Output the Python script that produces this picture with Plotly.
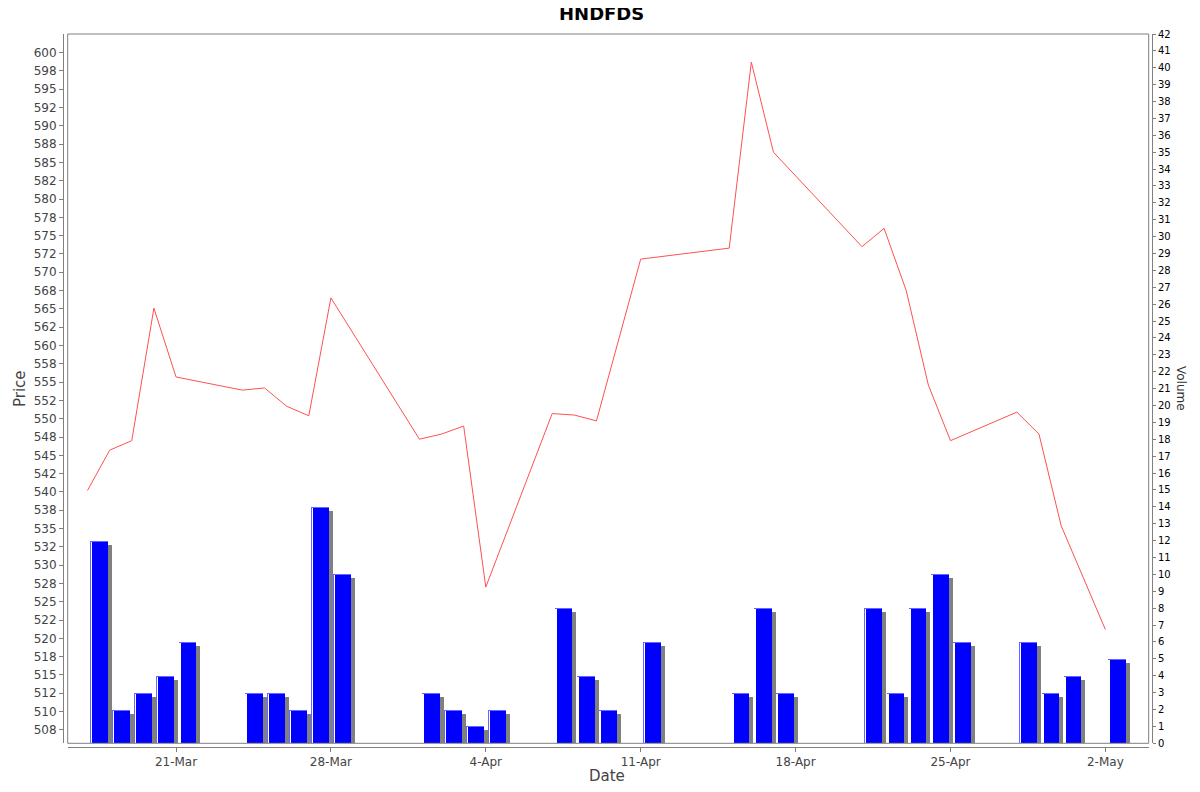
import plotly.graph_objects as go

# daily data (NSE trading days, Mar-May 2025)
dates = ["2025-03-17", "2025-03-18", "2025-03-19", "2025-03-20", "2025-03-21",
         "2025-03-24", "2025-03-25", "2025-03-26", "2025-03-27", "2025-03-28",
         "2025-04-01", "2025-04-02", "2025-04-03", "2025-04-04",
         "2025-04-07", "2025-04-08", "2025-04-09", "2025-04-11",
         "2025-04-15", "2025-04-16", "2025-04-17",
         "2025-04-21", "2025-04-22", "2025-04-23", "2025-04-24", "2025-04-25",
         "2025-04-28", "2025-04-29", "2025-04-30", "2025-05-02"]
price = [540.2, 545.7, 547.0, 565.1, 555.7,
         553.9, 554.2, 551.7, 550.4, 566.5,
         547.2, 547.9, 549.0, 527.0,
         550.7, 550.5, 549.7, 571.8,
         573.3, 598.7, 586.4,
         573.5, 576.0, 567.5, 554.6, 547.0,
         550.9, 547.9, 535.4, 521.2]
volume = [12, 2, 3, 4, 6,
          3, 3, 2, 14, 10,
          3, 2, 1, 2,
          8, 4, 2, 6,
          3, 8, 3,
          8, 3, 8, 10, 6,
          6, 3, 4, 5]

x_tick_vals = ["2025-03-21", "2025-03-28", "2025-04-04", "2025-04-11",
               "2025-04-18", "2025-04-25", "2025-05-02"]
x_tick_text = ["21-Mar", "28-Mar", "4-Apr", "11-Apr", "18-Apr", "25-Apr", "2-May"]
price_ticks = [507.5 + 2.5 * i for i in range(38)]
price_tick_text = [str(round(v)) for v in price_ticks]
volume_ticks = list(range(0, 43))

DAY = 86400000
PX_X = DAY / 22.13      # one screen pixel along x, in ms
PX_V = 1 / 16.89        # one screen pixel along volume axis

# the page body adds an 8px margin on every side; keep the figure inside the window
OFF = 8
W, H = 1200 - 2 * OFF, 792 - 2 * OFF
ML, MR, MT, MB = 63 - OFF, 48 - OFF, 34 - OFF, 45 - OFF
pw, ph = W - ML - MR, H - MT - MB
FONT = "DejaVu Sans"
AXIS_GREY = "#808080"


def px(x):
    return (x - OFF - ML) / pw


def py(y):
    return (H - MB - (y - OFF)) / ph


fig = go.Figure()

# drop shadow of the volume bars
fig.add_trace(go.Bar(x=dates, y=[v - 4 * PX_V for v in volume], yaxis="y",
                     offset=0.1 * DAY + 4 * PX_X, width=0.8 * DAY,
                     marker=dict(color="#808080", line=dict(width=0)),
                     hoverinfo="skip", showlegend=False))
# light edge
fig.add_trace(go.Bar(x=dates, y=volume, yaxis="y",
                     offset=0.1 * DAY, width=0.8 * DAY,
                     marker=dict(color="#6666FF", line=dict(width=0)),
                     hoverinfo="skip", showlegend=False))
# thin white gap near left edge
fig.add_trace(go.Bar(x=dates, y=[v - PX_V for v in volume], yaxis="y",
                     offset=0.1 * DAY + PX_X, width=PX_X,
                     marker=dict(color="white", line=dict(width=0)),
                     hoverinfo="skip", showlegend=False))
# main bar body
fig.add_trace(go.Bar(x=dates, y=[v - PX_V for v in volume], yaxis="y",
                     offset=0.1 * DAY + 2 * PX_X, width=0.8 * DAY - 2 * PX_X,
                     marker=dict(color="#0000FF", line=dict(width=0)),
                     name="Volume", showlegend=False))

# price line
fig.add_trace(go.Scatter(x=dates, y=price, yaxis="y2", mode="lines",
                         line=dict(color="#FF5050", width=1),
                         name="Price", showlegend=False))

fig.update_layout(
    width=W, height=H,
    margin=dict(l=ML, r=MR, t=MT, b=MB, autoexpand=False),
    paper_bgcolor="white", plot_bgcolor="white",
    barmode="overlay", bargap=0,
    font=dict(family=FONT, color="#444444"),
    xaxis=dict(type="date", domain=[4.7 / pw, 1 - 3.3 / pw],
               anchor="free", position=0,
               range=["2025-03-16 02:30", "2025-05-03 23:00"],
               tickvals=x_tick_vals, ticktext=x_tick_text,
               showgrid=False, zeroline=False,
               showline=True, linecolor=AXIS_GREY, linewidth=1,
               ticks="outside", ticklen=4, tickcolor=AXIS_GREY,
               tickfont=dict(size=12, color="#444444"), automargin=False),
    yaxis=dict(domain=[3.7 / ph, 1], anchor="free", position=1, side="right",
               range=[0, 42], tickvals=volume_ticks,
               showgrid=False, zeroline=False,
               showline=True, linecolor=AXIS_GREY, linewidth=1,
               ticks="outside", ticklen=3, tickcolor=AXIS_GREY,
               tickfont=dict(size=10, color="#000000"), automargin=False),
    yaxis2=dict(overlaying="y", anchor="free", position=0, side="left",
                range=[505.66, 602.55],
                tickvals=price_ticks, ticktext=price_tick_text,
                showgrid=False, zeroline=False,
                showline=True, linecolor=AXIS_GREY, linewidth=1,
                ticks="outside", ticklen=4, tickcolor=AXIS_GREY,
                tickfont=dict(size=12, color="#444444"), automargin=False),
    shapes=[dict(type="rect", xref="x domain", yref="y domain",
                 x0=0, x1=1, y0=0, y1=1,
                 line=dict(color=AXIS_GREY, width=1), layer="above")],
    annotations=[
        dict(text="<b>HNDFDS</b>", xref="paper", yref="paper",
             x=px(601), y=py(14), xanchor="center", yanchor="middle",
             showarrow=False, font=dict(size=18, color="#000000")),
        dict(text="Price", xref="paper", yref="paper",
             x=px(20), y=py(389), textangle=-90,
             xanchor="center", yanchor="middle",
             showarrow=False, font=dict(size=15, color="#444444")),
        dict(text="Volume", xref="paper", yref="paper",
             x=px(1181), y=py(388), textangle=90,
             xanchor="center", yanchor="middle",
             showarrow=False, font=dict(size=12, color="#333333")),
        dict(text="Date", xref="paper", yref="paper",
             x=px(607), y=py(776), xanchor="center", yanchor="middle",
             showarrow=False, font=dict(size=15, color="#444444")),
    ],
)

fig.write_html("out.html")
